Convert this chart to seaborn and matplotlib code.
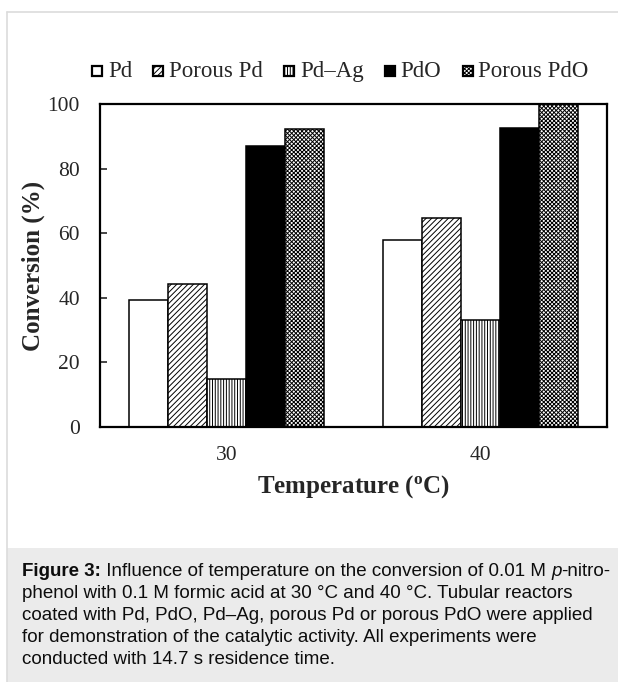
import pandas as pd
import seaborn as sns
import matplotlib.pyplot as plt
from matplotlib.patches import Rectangle
from matplotlib.lines import Line2D

temperatures = ["30", "40"]
materials = ["Pd", "Porous Pd", "Pd–Ag", "PdO", "Porous PdO"]
conv_30 = [39.3, 44.3, 14.9, 87.1, 92.3]
conv_40 = [57.9, 64.6, 33.1, 92.6, 100.0]
yticks = [0, 20, 40, 60, 80, 100]

caption_lines = [
    [("Figure 3:", "bold", "normal"), (" Influence of temperature on the conversion of 0.01 M ", "normal", "normal"),
     ("p", "normal", "italic"), ("-nitro-", "normal", "normal")],
    [("phenol with 0.1 M formic acid at 30 °C and 40 °C. Tubular reactors", "normal", "normal")],
    [("coated with Pd, PdO, Pd–Ag, porous Pd or porous PdO were applied", "normal", "normal")],
    [("for demonstration of the catalytic activity. All experiments were", "normal", "normal")],
    [("conducted with 14.7 s residence time.", "normal", "normal")],
]

faces = ["white", "white", "white", "black", "white"]
hatches = ["", "//////", "||||||", "", "xxxxxxxx"]

sns.set_style("white")
plt.rcParams["font.family"] = ["Liberation Serif", "DejaVu Serif"]
plt.rcParams["mathtext.fontset"] = "custom"
plt.rcParams["mathtext.rm"] = "Liberation Serif"
plt.rcParams["mathtext.bf"] = "Liberation Serif:bold"
plt.rcParams["hatch.linewidth"] = 0.7

df = pd.DataFrame({
    "temp": temperatures * len(materials),
    "material": [m for m in materials for _ in temperatures],
    "conv": [v for pair in zip(conv_30, conv_40) for v in pair],
})

W, H = 618, 682
fig = plt.figure(figsize=(W / 100, H / 100), dpi=100)
renderer = fig.canvas.get_renderer()

# outer light frame and caption panel
fig.add_artist(Line2D([7 / W, 7 / W], [0, 1 - 12 / H], color="#dcdcdc", lw=1.2, transform=fig.transFigure))
fig.add_artist(Line2D([7 / W, 1], [1 - 12 / H, 1 - 12 / H], color="#dcdcdc", lw=1.2, transform=fig.transFigure))
fig.add_artist(Rectangle((7 / W, 0), 1 - 7 / W, 1 - 548 / H, facecolor="#ebebeb", edgecolor="none",
                         transform=fig.transFigure, zorder=0))

ax = fig.add_axes([100 / W, 1 - 427 / H, 507 / W, 323 / H])
sns.barplot(data=df, x="temp", y="conv", hue="material", hue_order=materials, order=temperatures,
            palette=dict(zip(materials, faces)), width=0.77, edgecolor="black", linewidth=1.1,
            errorbar=None, legend=False, ax=ax, saturation=1)
for cont, h in zip(ax.containers, hatches):
    for bar in cont:
        bar.set_hatch(h)

ax.set_ylim(0, 100)
ax.set_xlim(-0.5, 1.5)
ax.set_yticks(yticks)
ax.tick_params(axis="both", labelsize=15.5)
ax.tick_params(axis="x", length=0, pad=13.5)
ax.tick_params(axis="y", direction="in", length=5, width=1.2, left=True, pad=14.5)
for s in ax.spines.values():
    s.set_visible(True)
    s.set_linewidth(1.6)
    s.set_color("black")
ax.set_xlabel(r"Temperature ($\mathbf{^o}$C)", fontsize=18, fontweight="bold", labelpad=6)
ax.set_ylabel("Conversion (%)", fontsize=18, fontweight="bold", labelpad=1.5)

# legend row: small square + label, chained left to right
x = 92
ly = 71
for name, f, h in zip(materials, faces, hatches):
    fig.add_artist(Rectangle((x / W, 1 - (ly + 5) / H), 10 / W, 10 / H, facecolor=f, edgecolor="black",
                             hatch=h, lw=1.6, transform=fig.transFigure))
    t = fig.text((x + 16) / W, 1 - (ly + 6) / H, name, fontsize=16.5, va="baseline", ha="left")
    x = t.get_window_extent(renderer).x1 + 21

# caption, pieces chained left to right
y0 = 572
for i, line in enumerate(caption_lines):
    x = 22
    for txt, wt, st in line:
        t = fig.text(x / W, 1 - (y0 + 22 * i) / H, txt, fontsize=13.5, fontweight=wt, fontstyle=st,
                     family=["Liberation Sans", "DejaVu Sans"], va="center", ha="left", color="#0d0d0d")
        x = t.get_window_extent(renderer).x1

fig.savefig("out.png", dpi=100)
